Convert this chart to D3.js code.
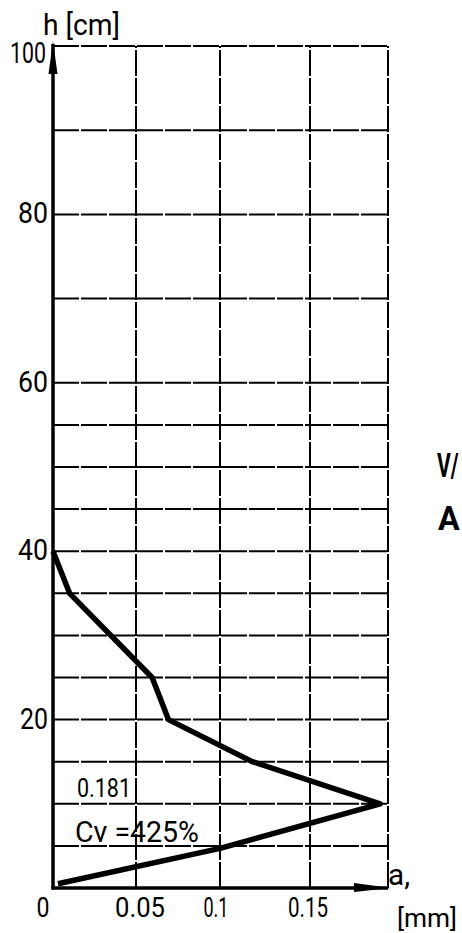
<!DOCTYPE html>
<html><head><meta charset="utf-8">
<script src="https://cdn.jsdelivr.net/npm/d3@7/dist/d3.min.js"></script>
<style>
body{margin:0;background:#fff;}
svg{display:block;}
text{font-family:Roboto,"DejaVu Sans Condensed",sans-serif;fill:#000;}
</style></head><body>
<script>
// Data
const depthH = [40, 35, 25, 20, 15, 10, 4.7, 0.5];
const valueA = [0, 0.010, 0.0596, 0.0693, 0.118, 0.195, 0.1, 0.003];
const xTicks = [0, 0.05, 0.1, 0.15, 0.2];
const xTickLabels = ["0", "0.05", "0.1", "0.15", ""];
const yTicksLabeled = [20, 40, 60, 80, 100];
const yGrid = [5, 10, 15, 20, 25, 30, 35, 40, 45, 50, 55, 60, 70, 80, 90, 100];
const annotation = ["0.181", "Cv =425%"];

const W = 462, H = 933;
const svg = d3.select("body").append("svg").attr("width", W).attr("height", H);

const x = d3.scaleLinear().domain([0, 0.05, 0.1, 0.15, 0.2]).range([53, 136, 220, 310, 388]);
const y = d3.scaleLinear().domain([0, 100]).range([888, 46]);

// grid
const g = svg.append("g").attr("stroke", "#000").attr("stroke-width", 2).attr("stroke-dasharray", "26,2");
g.selectAll("line.h").data(yGrid).join("line")
  .attr("x1", x(0)).attr("x2", x(0.2)).attr("y1", d => y(d)).attr("y2", d => y(d));
g.selectAll("line.v").data(xTicks.slice(1)).join("line")
  .attr("x1", d => x(d)).attr("x2", d => x(d)).attr("y1", y(0)).attr("y2", y(100));

// axes
svg.append("line").attr("x1", x(0)).attr("x2", x(0)).attr("y1", y(0) + 1.5).attr("y2", y(100) - 2)
  .attr("stroke", "#000").attr("stroke-width", 3.5);
svg.append("line").attr("x1", x(0) - 1.5).attr("x2", x(0.2)).attr("y1", y(0)).attr("y2", y(0))
  .attr("stroke", "#000").attr("stroke-width", 3.5);
// arrows
svg.append("path").attr("d", `M${x(0)},${y(100)-5} L${x(0)-4.5},${y(100)+28} L${x(0)+4.5},${y(100)+28} Z`).attr("fill", "#000");
svg.append("path").attr("d", `M${x(0.2)+3},${y(0)} L${x(0.2)-34},${y(0)-5} L${x(0.2)-34},${y(0)+4} Z`).attr("fill", "#000");

// curve
const pts = depthH.map((h, i) => [valueA[i], h]);
svg.append("path").datum(pts)
  .attr("d", d3.line().x(d => x(d[0])).y(d => y(d[1])))
  .attr("fill", "none").attr("stroke", "#000").attr("stroke-width", 5.5).attr("stroke-linejoin", "round");

// y labels
const yLabW = {20: 28, 40: 30, 60: 30, 80: 30, 100: 36};
svg.selectAll("text.yl").data(yTicksLabeled).join("text")
  .attr("x", d => d === 100 ? 46 : 48).attr("y", d => d === 100 ? y(d) + 17 : y(d) + 9)
  .attr("text-anchor", "end").attr("font-size", 30)
  .attr("textLength", d => yLabW[d]).attr("lengthAdjust", "spacingAndGlyphs")
  .text(d => d);
// x labels
const xLabW = [13, 50, 25, 40, 0];
const xLabC = [43, 140, 216, 308, 0];
svg.selectAll("text.xl").data(xTicks.slice(0, 4)).join("text")
  .attr("x", (d, i) => xLabC[i] - xLabW[i] / 2).attr("y", 917)
  .attr("font-size", 27)
  .attr("textLength", (d, i) => xLabW[i]).attr("lengthAdjust", "spacingAndGlyphs")
  .text((d, i) => xTickLabels[i]);

// axis titles
svg.append("text").attr("x", 43).attr("y", 35).attr("font-size", 30)
  .attr("textLength", 77).attr("lengthAdjust", "spacingAndGlyphs").text("h [cm]");
svg.append("text").attr("x", 388).attr("y", 885).attr("font-size", 30)
  .attr("textLength", 22).attr("lengthAdjust", "spacingAndGlyphs").text("a,");
svg.append("text").attr("x", 397).attr("y", 927).attr("font-size", 25)
  .attr("textLength", 60).attr("lengthAdjust", "spacingAndGlyphs").text("[mm]");

// annotation
svg.append("text").attr("x", 77).attr("y", 797).attr("font-size", 25)
  .attr("textLength", 54).attr("lengthAdjust", "spacingAndGlyphs").text(annotation[0]);
svg.append("text").attr("x", 75).attr("y", 842).attr("font-size", 29)
  .attr("textLength", 124).attr("lengthAdjust", "spacingAndGlyphs").text(annotation[1]);

// neighbouring text at right edge
svg.append("text").attr("transform", "translate(437,477) scale(0.62,1)")
  .attr("font-size", 34).attr("font-weight", "bold").text("V/");
svg.append("text").attr("transform", "translate(438,530) scale(0.95,1)")
  .attr("font-size", 34).attr("font-weight", "bold").text("A");
</script>
</body></html>
